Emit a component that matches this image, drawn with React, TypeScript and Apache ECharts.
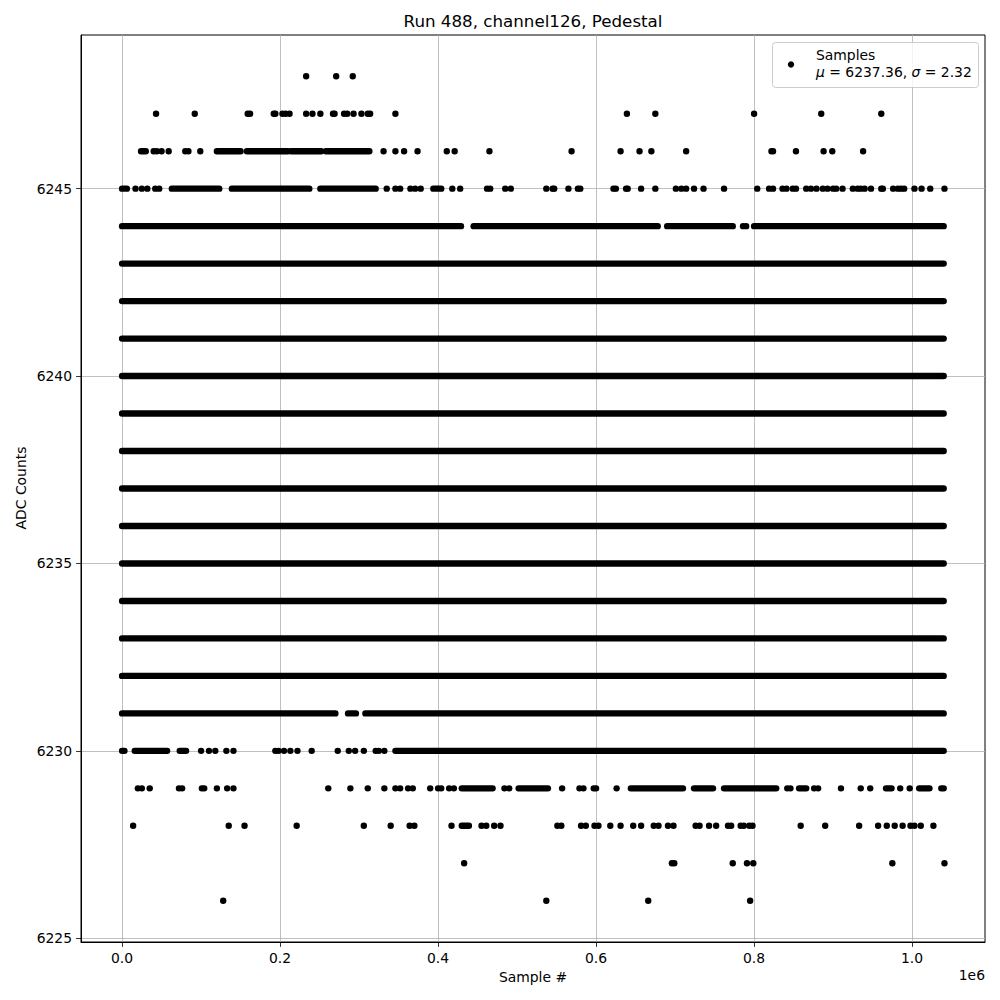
import React, { useEffect, useRef } from "react";
import * as echarts from "echarts";

type Run = number | [number, number];

const chartTitle = "Run 488, channel126, Pedestal";
const xAxisName = "Sample #";
const yAxisName = "ADC Counts";
const xOffsetText = "1e6";
const seriesName = "Samples";
const muValue = "6237.36";
const sigmaValue = "2.32";

const xTicks = [0, 200000, 400000, 600000, 800000, 1000000];
const yTicks = [6225, 6230, 6235, 6240, 6245];

const lastSample = 1040000;
const denseLevels = [6232, 6233, 6234, 6235, 6236, 6237, 6238, 6239, 6240, 6241, 6242, 6243];

const level6248: Run[] = [233000, 271000, 292000];
const level6247: Run[] = [43000, 92000, 159000, 162000, 192000, 194000, 203000, 207000, 212000, 233000, 241000, 251000, 267000, 269000, 281000, 285000, 293000, 303000, 311000, 314000, 346000, 639000, 675000, 800000, 885000, 961000];
const level6246: Run[] = [[24000, 30000], 40000, 44000, 50000, 59000, 80000, 84000, 99000, [120000, 150000], [158000, 210000], [214000, 252000], [258000, 313000], 331000, 346000, 357000, 374000, 411000, 421000, 465000, 569000, 631000, 655000, 670000, 714000, [822000, 824000], 853000, 888000, 899000, 938000];
const level6245: Run[] = [[0, 6000], 17000, 25000, 32000, 42000, 47000, [63000, 123000], [139000, 237000], [251000, 321000], 335000, 346000, 352000, 365000, 371000, 378000, [394000, 404000], 418000, 428000, 462000, 466000, 485000, 492000, 537000, 545000, 547000, 565000, 577000, 580000, 622000, 625000, 638000, 640000, 657000, 675000, 701000, 708000, 714000, 724000, 736000, 762000, 804000, 819000, 824000, 836000, 841000, 849000, 853000, 866000, 872000, 879000, 887000, 893000, 900000, 904000, 912000, 925000, 931000, 935000, 940000, 948000, 961000, 963000, 976000, 982000, 986000, 990000, 1003000, 1012000, 1023000, 1041000];
const level6244: Run[] = [[0, 429000], [445000, 678000], [690000, 773000], 786000, 790000, [800000, 1040000]];
const level6231: Run[] = [[0, 270000], [286000, 296000], [308000, 1040000]];
const level6230: Run[] = [[0, 3000], [16000, 57000], [73000, 81000], 100000, 110000, 118000, 132000, 141000, 194000, 198000, 205000, 213000, 222000, 240000, 273000, 287000, 295000, 306000, 321000, 325000, 332000, [346000, 1040000]];
const level6229: Run[] = [20000, 25000, 35000, 72000, 76000, 101000, 104000, 120000, 133000, 141000, 261000, 289000, 311000, 332000, 346000, 352000, 362000, 368000, 390000, 400000, 404000, 414000, 420000, [430000, 469000], 484000, 490000, [502000, 539000], 557000, 579000, 584000, [597000, 600000], 626000, [644000, 710000], [724000, 748000], [762000, 828000], 842000, 846000, [857000, 866000], 876000, 881000, 910000, 935000, 947000, [967000, 974000], 985000, 997000, [1009000, 1022000], [1037000, 1040000]];
const level6228: Run[] = [14000, 135000, 155000, 221000, 306000, 340000, 364000, 370000, 417000, [430000, 439000], 455000, 461000, 471000, 479000, 551000, 556000, 581000, 587000, 598000, 603000, 618000, 631000, 647000, 657000, 673000, 679000, 691000, 698000, 726000, 731000, 743000, 752000, 767000, 771000, 783000, 787000, 794000, 798000, 859000, 890000, 933000, 957000, 968000, 978000, 988000, 998000, 1003000, 1011000, 1027000];
const level6227: Run[] = [433000, 696000, 699000, 773000, 791000, 799000, 975000, 1041000];
const level6226: Run[] = [128000, 537000, 666000, 795000];

const sparseLevels: [number, Run[]][] = [
  [6248, level6248], [6247, level6247], [6246, level6246], [6245, level6245], [6244, level6244],
  [6231, level6231], [6230, level6230], [6229, level6229], [6228, level6228], [6227, level6227], [6226, level6226],
];

function buildData(): [number, number, number][] {
  const out: [number, number, number][] = [];
  denseLevels.forEach((lv) => out.push([0, lastSample, lv]));
  sparseLevels.forEach(([lv, runs]) => {
    runs.forEach((r) => {
      if (typeof r === "number") out.push([r, r, lv]);
      else out.push([r[0], r[1], lv]);
    });
  });
  return out;
}

const FONT = "DejaVu Sans";
const R = 3.2;

export default function App() {
  const ref = useRef<HTMLDivElement>(null);
  useEffect(() => {
    if (!ref.current) return;
    const chart = echarts.init(ref.current, undefined, { renderer: "svg" });
    const data = buildData();
    chart.setOption({
      animation: false,
      backgroundColor: "#fff",
      grid: { left: 81, right: 15, top: 35, bottom: 58, show: true, borderColor: "#000", borderWidth: 1, backgroundColor: "transparent" },
      xAxis: {
        type: "value",
        min: -52000,
        max: 1092300,
        axisLine: { show: true, onZero: false, lineStyle: { color: "#000", width: 1 } },
        axisTick: { show: true, length: 4.9, customValues: xTicks, lineStyle: { color: "#000", width: 0.8 } },
        axisLabel: { customValues: xTicks, formatter: (v: number) => (v / 1e6).toFixed(1), color: "#000", fontSize: 13.9, fontFamily: FONT, margin: 9 },
        splitLine: { show: true, lineStyle: { color: "#b0b0b0", width: 0.8 } },
      },
      yAxis: {
        type: "value",
        min: 6224.9,
        max: 6249.1,
        axisLine: { show: true, onZero: false, lineStyle: { color: "#000", width: 1 } },
        axisTick: { show: true, length: 4.9, customValues: yTicks, lineStyle: { color: "#000", width: 0.8 } },
        axisLabel: { customValues: yTicks, formatter: (v: number) => String(Math.round(v)), color: "#000", fontSize: 13.9, fontFamily: FONT, margin: 9 },
        splitLine: { show: true, lineStyle: { color: "#b0b0b0", width: 0.8 } },
      },
      series: [
        {
          type: "custom",
          name: seriesName,
          silent: true,
          clip: true,
          encode: { x: [0, 1], y: 2 },
          data,
          renderItem: (params: any, api: any) => {
            const a = api.coord([api.value(0), api.value(2)]);
            const b = api.coord([api.value(1), api.value(2)]);
            return {
              type: "rect",
              shape: { x: a[0] - R, y: a[1] - R, width: b[0] - a[0] + 2 * R, height: 2 * R, r: R },
              style: { fill: "#000" },
            };
          },
        },
      ],
      graphic: [
        { type: "text", x: 533, y: 21, style: { text: chartTitle, fill: "#000", font: `16.7px '${FONT}'`, align: "center", verticalAlign: "middle" } },
        { type: "text", x: 533, y: 977, style: { text: xAxisName, fill: "#000", font: `13.9px '${FONT}'`, align: "center", verticalAlign: "middle" } },
        { type: "text", x: 21, y: 488, rotation: Math.PI / 2, style: { text: yAxisName, fill: "#000", font: `13.9px '${FONT}'`, align: "center", verticalAlign: "middle" } },
        { type: "text", x: 985, y: 975, style: { text: xOffsetText, fill: "#000", font: `13.9px '${FONT}'`, align: "right", verticalAlign: "middle" } },
        { type: "rect", shape: { x: 772.5, y: 42.5, width: 206, height: 45, r: 3 }, style: { fill: "rgba(255,255,255,0.8)", stroke: "#cccccc", lineWidth: 1 }, z: 100 },
        { type: "circle", shape: { cx: 791, cy: 64.5, r: R }, style: { fill: "#000" }, z: 101 },
        { type: "text", x: 816, y: 54.5, style: { text: seriesName, fill: "#000", font: `13.9px '${FONT}'`, align: "left", verticalAlign: "middle" }, z: 101 },
        {
          type: "text", x: 816, y: 71.5, z: 101,
          style: {
            text: `{i|μ} = ${muValue}, {i|σ} = ${sigmaValue}`,
            fill: "#000", font: `13.9px '${FONT}'`, align: "left", verticalAlign: "middle",
            rich: { i: { fontStyle: "italic", fontFamily: FONT, fontSize: 13.9, fill: "#000" } },
          },
        },
      ],
    });
    return () => chart.dispose();
  }, []);
  return <div ref={ref} style={{ position: "absolute", left: 0, top: 0, width: 1000, height: 1000 }} />;
}
